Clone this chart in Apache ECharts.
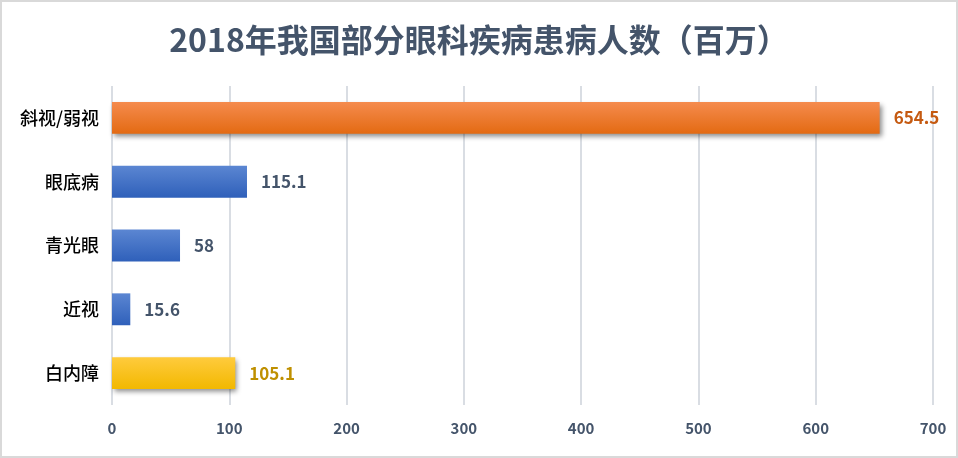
<!DOCTYPE html>
<html><head><meta charset="utf-8">
<script src="https://cdn.jsdelivr.net/npm/echarts@6/dist/echarts.min.js"></script>
<style>html,body{margin:0;padding:0;background:#fff}#c{width:958px;height:458px;box-sizing:border-box;border:2px solid #D9D9D9}</style>
</head><body><div id="c"></div>
<script>
const categories = ['斜视/弱视','眼底病','青光眼','近视','白内障'];
const values = [654.5,115.1,58,15.6,105.1];
const xTicks = [0,100,200,300,400,500,600,700];

const grad = (a,b)=>new echarts.graphic.LinearGradient(0,0,0,1,[{offset:0,color:a},{offset:1,color:b}]);
const styles = [
  {fill:grad('#F58B4E','#E36A12'), label:'#C55A11', shadow:true},
  {fill:grad('#5B86D2','#2F60BA'), label:'#44546A', shadow:false},
  {fill:grad('#5B86D2','#2F60BA'), label:'#44546A', shadow:false},
  {fill:grad('#5B86D2','#2F60BA'), label:'#44546A', shadow:false},
  {fill:grad('#FFCB3D','#F2B800'), label:'#BF9000', shadow:true}
];
const data = values.map((v,i)=>({
  value:v,
  itemStyle:Object.assign({color:styles[i].fill}, styles[i].shadow?{shadowColor:'rgba(0,0,0,0.45)',shadowBlur:5,shadowOffsetX:2,shadowOffsetY:3}:{}),
  label:{color:styles[i].label}
}));
const chart = echarts.init(document.getElementById('c'));
chart.setOption({
  animation:false,
  title:{text:'2018年我国部分眼科疾病患病人数（百万）',left:'center',top:17,
    textStyle:{fontFamily:'Noto Sans CJK SC',fontSize:32,fontWeight:'bold',color:'#44546A'}},
  grid:{left:110,right:23,top:84,bottom:51,containLabel:false},
  xAxis:{type:'value',min:0,max:700,interval:100,
    axisLine:{show:false},axisTick:{show:false},
    splitLine:{lineStyle:{color:'#D9DDE3',width:2}},
    axisLabel:{margin:16,fontFamily:'Noto Sans CJK SC',fontSize:15,fontWeight:'bold',color:'#44546A',
      formatter:v=>xTicks.includes(v)?String(v):''}},
  yAxis:{type:'category',inverse:true,data:categories,
    axisLine:{show:false},axisTick:{show:false},
    axisLabel:{margin:13,fontFamily:'Noto Sans CJK SC',fontSize:18,fontWeight:500,color:'#000'}},
  series:[{type:'bar',data:data,barWidth:'50%',
    label:{show:true,position:'right',distance:14,fontFamily:'Noto Sans CJK SC',fontSize:17,fontWeight:'bold'}}]
});
</script></body></html>
